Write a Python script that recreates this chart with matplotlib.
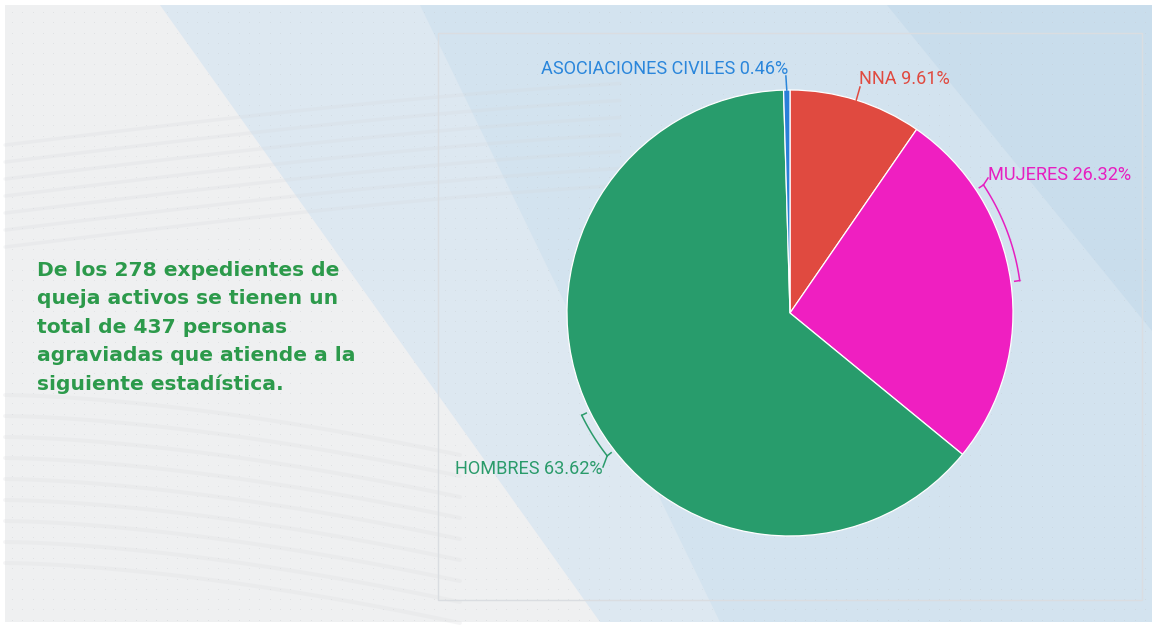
import numpy as np
import matplotlib
matplotlib.use("Agg")
import matplotlib.pyplot as plt
from matplotlib.patches import Polygon, Rectangle

# ---------------- data ----------------
categories = ["NNA", "MUJERES", "HOMBRES", "ASOCIACIONES CIVILES"]
values = [9.61, 26.32, 63.62, 0.46]
colors = ["#e04a40", "#ef1fc1", "#289c6c", "#2a7fd8"]
label_colors = ["#e04a40", "#e61fc0", "#2a9b6b", "#2a86db"]
intro_lines = [
    "De los 278 expedientes de",
    "queja activos se tienen un",
    "total de 437 personas",
    "agraviadas que atiende a la",
    "siguiente estadística.",
]

W, H = 1156, 626
fig = plt.figure(figsize=(W / 100, H / 100), dpi=100)
fig.patch.set_facecolor("white")

# ---------------- background ----------------
bg = fig.add_axes([0, 0, 1, 1])
bg.set_xlim(0, W)
bg.set_ylim(H, 0)
bg.axis("off")
L, T, R, B = 5, 5, 1152, 622
bg.add_patch(Rectangle((L, T), R - L, B - T, facecolor="#eff0f1", edgecolor="none", zorder=0))
bg.add_patch(Polygon([(160, T), (R, T), (R, B), (600, B)], closed=True,
                     facecolor="#dde8f1", edgecolor="none", zorder=1))
bg.add_patch(Polygon([(420, T), (R, T), (R, B), (720, B)], closed=True,
                     facecolor="#d3e3ef", edgecolor="none", zorder=2))
bg.add_patch(Polygon([(887, T), (R, T), (R, 331)], closed=True,
                     facecolor="#c9ddec", edgecolor="none", zorder=3))

# faint flowing lines
xs = np.linspace(L, 620, 200)
for i in range(7):
    y0 = 145 + 17 * i
    ys = y0 - 70 * np.sin(np.pi / 2 * (xs - L) / 900)
    bg.plot(xs, ys, color="#d5d8dc", lw=2.5, alpha=0.22, zorder=4, solid_capstyle="round")
xs2 = np.linspace(L, 460, 200)
for i in range(9):
    y0 = 395 + 21 * i
    ys = y0 + 60 * ((xs2 - L) / 455) ** 1.6
    bg.plot(xs2, ys, color="#dfe0e3", lw=2.8, alpha=0.3, zorder=4, solid_capstyle="round")

# dot grid
gx, gy = np.meshgrid(np.arange(12, R, 10.3), np.arange(12, B, 10.3))
bg.scatter(gx.ravel(), gy.ravel(), s=0.35, color="#c4c8cc", alpha=0.35, linewidths=0, zorder=5)

# chart frame
bg.add_patch(Rectangle((438, 33), 1142 - 438, 600 - 33, facecolor="none",
                       edgecolor="#dadde1", lw=1.0, zorder=6))

# intro text
for i, line in enumerate(intro_lines):
    bg.text(37, 270 + 28.6 * i, line, fontsize=14.6, fontweight="bold", family="DejaVu Sans",
            color="#2c9a4b", va="center", ha="left", zorder=10)

# ---------------- pie ----------------
CX, CY, RAD = 790, 313, 223
ax = fig.add_axes([(CX - RAD) / W, (H - CY - RAD) / H, 2 * RAD / W, 2 * RAD / H])
wedges, _ = ax.pie(values, colors=colors, startangle=90, counterclock=False, radius=1,
                   wedgeprops=dict(edgecolor="white", linewidth=0.9))
ax.set_xlim(-1, 1)
ax.set_ylim(-1, 1)
ax.axis("off")


def P(px, py):
    return ((px - CX) / RAD, (CY - py) / RAD)


mids = [((w.theta1 + w.theta2) / 2) % 360 for w in wedges]
lab_font = dict(family="Roboto", fontsize=13.1, fontweight="normal", va="center")

def lab(i):
    return f"{categories[i]} {values[i]:.2f}%"

LW = 1.1
# NNA leader
i = 0
a = np.deg2rad(mids[i])
p0 = (np.cos(a), np.sin(a))
p1 = P(860, 87)
ax.plot([p0[0], p1[0]], [p0[1], p1[1]], color=label_colors[i], lw=LW, clip_on=False)
ax.text(*P(859, 79), lab(i), color=label_colors[i], ha="left", **lab_font)

# ASOCIACIONES leader
i = 3
a = np.deg2rad(mids[i])
p0 = (np.cos(a), np.sin(a))
p1 = (p0[0] - 0.004, P(0, 76)[1])
ax.plot([p0[0], p1[0]], [p0[1], p1[1]], color=label_colors[i], lw=LW, clip_on=False)
ax.text(*P(788, 69), lab(i), color=label_colors[i], ha="right", **lab_font)


def bracket(i, a_end_deg, label_pt, text_pt, ha):
    r = 232 / RAD
    rin = 227 / RAD
    a0 = mids[i]
    d = ((a_end_deg - a0 + 180) % 360) - 180
    th = np.deg2rad(np.linspace(a0, a0 + d, 60))
    ax.plot(r * np.cos(th), r * np.sin(th), color=label_colors[i], lw=LW, clip_on=False)
    for ang in (th[0], th[-1]):
        ax.plot([rin * np.cos(ang), r * np.cos(ang)], [rin * np.sin(ang), r * np.sin(ang)],
                color=label_colors[i], lw=LW, clip_on=False)
    e = (r * np.cos(th[-1]), r * np.sin(th[-1]))
    q = P(*label_pt)
    ax.plot([e[0], q[0]], [e[1], q[1]], color=label_colors[i], lw=LW, clip_on=False)
    ax.text(*P(*text_pt), lab(i), color=label_colors[i], ha=ha, **lab_font)

bracket(1, 33.5, (988, 178), (988, 175), "left")
bracket(2, 218.0, (603, 467), (603, 469), "right")

fig.savefig("out.png", dpi=100, facecolor=fig.get_facecolor())
